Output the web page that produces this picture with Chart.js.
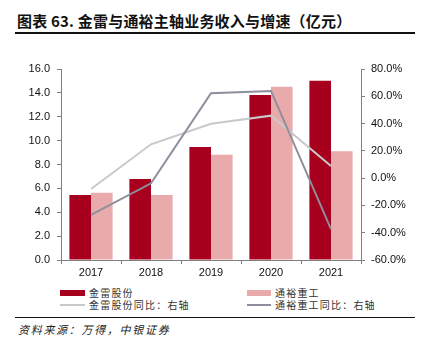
<!DOCTYPE html>
<html><head><meta charset="utf-8">
<script src="https://cdn.jsdelivr.net/npm/chart.js@4/dist/chart.umd.min.js"></script>
<style>
html,body{margin:0;padding:0;background:#fff;}
body{width:423px;height:354px;position:relative;overflow:hidden;font-family:"Noto Sans CJK SC",sans-serif;}
#title{position:absolute;left:17px;top:10px;font-size:15px;font-weight:bold;color:#111;white-space:nowrap;letter-spacing:0.2px;}
.hr{position:absolute;left:15px;width:400px;background:#111;}
#wrap{position:absolute;left:0;top:50px;width:423px;height:235px;}
.lg{position:absolute;font-size:10px;color:#333;white-space:nowrap;line-height:12px;letter-spacing:1.2px;}
.sw{position:absolute;}
#src{position:absolute;left:18px;top:321px;font-size:11px;font-style:italic;color:#222;white-space:nowrap;letter-spacing:1.7px;}
</style></head><body>
<div id="title">图表 63. 金雷与通裕主轴业务收入与增速（亿元）</div>
<div class="hr" style="top:32px;height:2px;"></div>
<div id="wrap"><canvas id="c"></canvas></div>
<div class="sw" style="left:60px;top:290px;width:25px;height:6px;background:#A6001E"></div>
<div class="lg" style="left:89px;top:287px;">金雷股份</div>
<div class="sw" style="left:247px;top:290px;width:24px;height:6px;background:#E8AAAA"></div>
<div class="lg" style="left:275px;top:287px;">通裕重工</div>
<div class="sw" style="left:60px;top:304px;width:25px;height:2px;background:#C9C9C9"></div>
<div class="lg" style="left:89px;top:299px;">金雷股份同比：右轴</div>
<div class="sw" style="left:247px;top:304px;width:24px;height:2px;background:#8E8E9C"></div>
<div class="lg" style="left:275px;top:299px;">通裕重工同比：右轴</div>
<div class="hr" style="top:317px;height:1px;"></div>
<div id="src">资料来源：万得，中银证券</div>
<script>
const categories = ['2017','2018','2019','2020','2021'];
const jinleiRevenue = [5.44, 6.78, 9.46, 13.82, 15.02];
const tongyuRevenue = [5.64, 5.44, 8.82, 14.52, 9.10];
const jinleiYoY = [-8.0, 24.8, 39.9, 45.8, 8.9];
const tongyuYoY = [-27.0, -3.8, 62.2, 63.9, -37.3];
const leftTicks = [0,2,4,6,8,10,12,14,16];
const rightTicks = [-60,-40,-20,0,20,40,60,80];

const axisColor = '#808080';
const tickFont = {family:'"Liberation Sans", Arial, sans-serif', size:11};

new Chart(document.getElementById('c'), {
  data: {
    labels: categories,
    datasets: [
      {type:'line', label:'金雷股份同比：右轴', data:jinleiYoY, yAxisID:'y1', borderColor:'#C9C9C9', borderWidth:2, pointRadius:0, tension:0, order:1},
      {type:'line', label:'通裕重工同比：右轴', data:tongyuYoY, yAxisID:'y1', borderColor:'#8E8E9C', borderWidth:2, pointRadius:0, tension:0, order:0},
      {type:'bar', label:'金雷股份', data:jinleiRevenue, yAxisID:'y', backgroundColor:'#A6001E', categoryPercentage:0.72, barPercentage:1, order:2},
      {type:'bar', label:'通裕重工', data:tongyuRevenue, yAxisID:'y', backgroundColor:'#E8AAAA', categoryPercentage:0.72, barPercentage:1, order:2}
    ]
  },
  options: {
    responsive:true, maintainAspectRatio:false, animation:false,
    layout:{padding:{top:19,left:0,right:0,bottom:0}},
    plugins:{legend:{display:false}, tooltip:{enabled:false}},
    scales:{
      x:{
        grid:{display:true, offset:true, drawOnChartArea:false, drawTicks:true, tickLength:4, color:axisColor},
        border:{display:true, color:axisColor, width:1},
        ticks:{color:'#111', font:tickFont, padding:2, maxRotation:0},
        afterFit:(s)=>{s.height=25;}
      },
      y:{
        position:'left', min:0, max:16,
        afterBuildTicks:(s)=>{s.ticks = leftTicks.map(v=>({value:v}));},
        grid:{display:true, drawOnChartArea:false, drawTicks:true, tickLength:4, color:axisColor},
        border:{display:true, color:axisColor, width:1},
        ticks:{color:'#111', font:tickFont, padding:7, callback:(v)=>Number(v).toFixed(1)},
        afterFit:(s)=>{s.width=61;}
      },
      y1:{
        position:'right', min:-60, max:80,
        afterBuildTicks:(s)=>{s.ticks = rightTicks.map(v=>({value:v}));},
        grid:{display:true, drawOnChartArea:false, drawTicks:true, tickLength:4, color:axisColor},
        border:{display:true, color:axisColor, width:1},
        ticks:{color:'#111', font:tickFont, padding:6, callback:(v)=>Number(v).toFixed(1)+'%'},
        afterFit:(s)=>{s.width=62;}
      }
    }
  }
});
</script>
</body></html>
